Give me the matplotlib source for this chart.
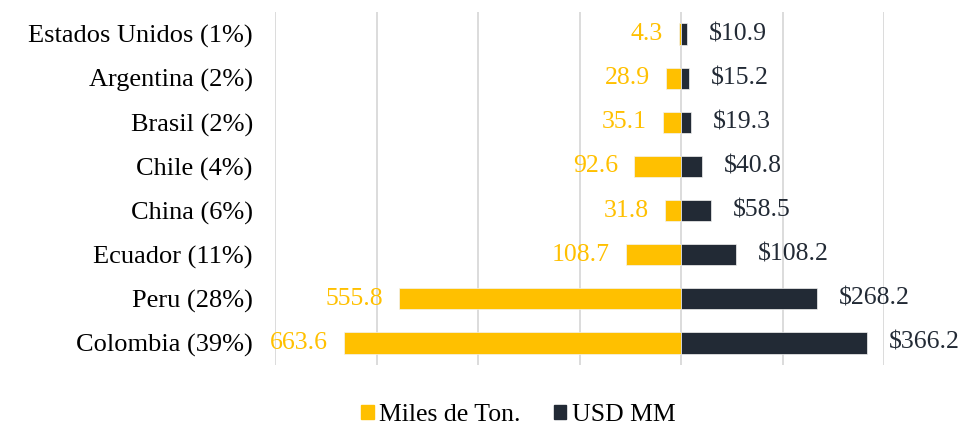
import matplotlib
matplotlib.use("Agg")
import matplotlib.pyplot as plt
from matplotlib.patches import Patch

categories = ["Estados Unidos (1%)", "Argentina (2%)", "Brasil (2%)", "Chile (4%)",
              "China (6%)", "Ecuador (11%)", "Peru (28%)", "Colombia (39%)"]
miles_ton = [4.3, 28.9, 35.1, 92.6, 31.8, 108.7, 555.8, 663.6]
usd_mm = [10.9, 15.2, 19.3, 40.8, 58.5, 108.2, 268.2, 366.2]
series_names = ["Miles de Ton.", "USD MM"]

YEL = "#FFC000"
DARK = "#222A35"

plt.rcParams['font.family'] = ['Liberation Serif', 'DejaVu Serif']

fig = plt.figure(figsize=(9.69, 4.28), dpi=100)
ax = fig.add_axes([275/969, 63/428, (884-275)/969, (416-63)/428])

y = list(range(len(categories)))
ax.barh(y, [-v for v in miles_ton], height=0.48, color=YEL, edgecolor="#F2F2F2", linewidth=0.5, zorder=3)
ax.barh(y, usd_mm, height=0.48, color=DARK, edgecolor="#F2F2F2", linewidth=0.5, zorder=3)

ax.set_xlim(-800, 400)
ax.set_ylim(len(categories) - 0.5, -0.5)
ax.set_xticks(range(-800, 401, 200))
ax.set_xticklabels([])
ax.tick_params(axis='x', length=0)
ax.tick_params(axis='y', length=0, pad=16, labelsize=19)
ax.set_yticks(y)
ax.set_yticklabels(categories)
ax.grid(axis='x', color="#D9D9D9", linewidth=1.3, zorder=0)
for s in ax.spines.values():
    s.set_visible(False)

for i, (m, u) in enumerate(zip(miles_ton, usd_mm)):
    ax.annotate(f"{m:.1f}", xy=(-m, i), xytext=(-16, 0), textcoords="offset pixels",
                ha="right", va="center", color=YEL, fontsize=18.5)
    ax.annotate(f"${u:.1f}", xy=(u, i), xytext=(22, 0), textcoords="offset pixels",
                ha="left", va="center", color=DARK, fontsize=18.5)

handles = [Patch(facecolor=YEL, edgecolor=YEL), Patch(facecolor=DARK, edgecolor=DARK)]
fig.legend(handles, series_names, loc="center", bbox_to_anchor=(518/969, 1 - 415/428),
           ncol=2, frameon=False, fontsize=18.5, handlelength=0.5, handleheight=0.5,
           handletextpad=0.2, columnspacing=1.3)

fig.savefig("out.png", dpi=100)
